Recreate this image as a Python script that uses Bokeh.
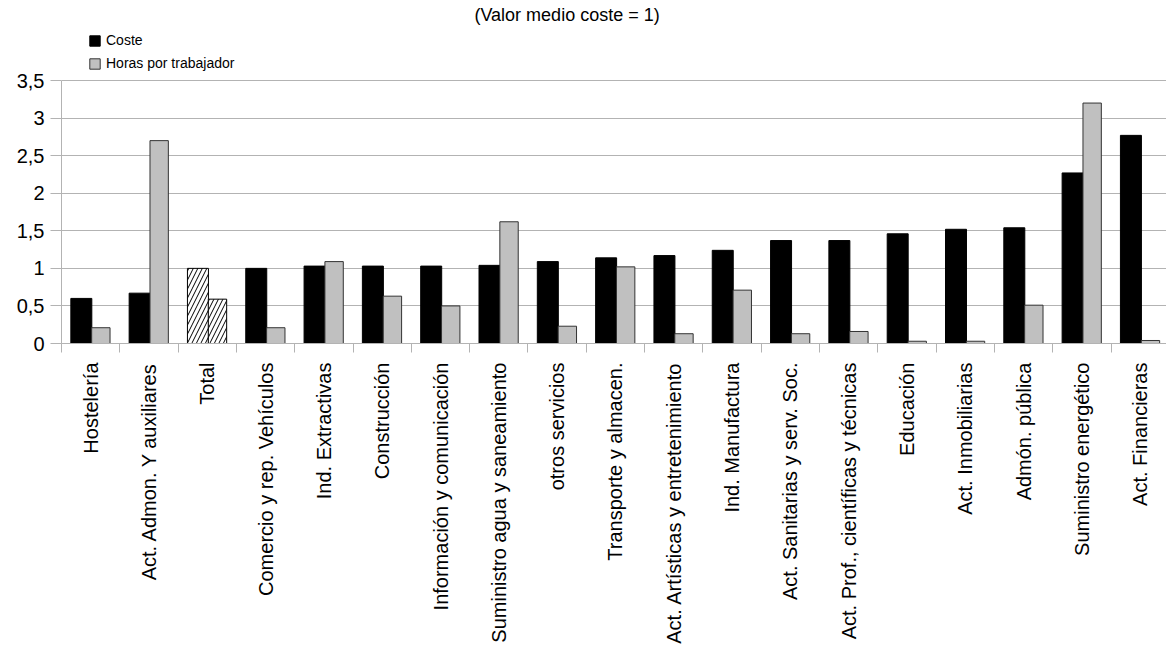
import numpy as np
from bokeh.plotting import figure
from bokeh.models import (ColumnDataSource, Range1d, FixedTicker, Legend, LegendItem, Label)
from bokeh.embed import file_html
from bokeh.resources import INLINE

categories = ["Hostelería", "Act. Admon. Y auxiliares", "Total", "Comercio y rep. Vehículos",
              "Ind. Extractivas", "Construcción", "Información y comunicación",
              "Suministro agua y saneamiento", "otros servicios", "Transporte y almacen.",
              "Act. Artísticas y entretenimiento", "Ind. Manufactura", "Act. Sanitarias y serv. Soc.",
              "Act. Prof., científicas y técnicas", "Educación", "Act. Inmobiliarias",
              "Admón. pública", "Suministro energético", "Act. Financieras"]
coste = [0.60, 0.67, 1.00, 1.00, 1.03, 1.03, 1.03, 1.04, 1.09, 1.14, 1.17, 1.24, 1.37, 1.37,
         1.46, 1.52, 1.54, 2.27, 2.77]
horas = [0.21, 2.70, 0.59, 0.21, 1.09, 0.63, 0.50, 1.62, 0.23, 1.02, 0.13, 0.71, 0.13, 0.16,
         0.03, 0.03, 0.51, 3.20, 0.04]
y_ticks = [0, 0.5, 1, 1.5, 2, 2.5, 3, 3.5]
y_tick_labels = ["0", "0,5", "1", "1,5", "2", "2,5", "3", "3,5"]
special = "Total"
title_text = "(Valor medio coste = 1)"

n = len(categories)
idx = np.arange(n)
is_total = [c == special for c in categories]

src_c = ColumnDataSource(dict(
    x=idx + 0.34, top=coste,
    fill=["white" if t else "black" for t in is_total],
    hatch=["/" if t else " " for t in is_total]))
src_h = ColumnDataSource(dict(
    x=idx + 0.675, top=horas,
    fill=["white" if t else "#c0c0c0" for t in is_total],
    line=["black" if t else "#333333" for t in is_total],
    hatch=["/" if t else " " for t in is_total]))

p = figure(width=1166, height=671, output_backend="svg", toolbar_location=None,
           x_range=Range1d(0, 18.95), y_range=Range1d(0, 4.565),
           min_border_left=61, min_border_right=0, min_border_top=0, min_border_bottom=328)
p.outline_line_color = None
p.background_fill_color = "white"

r1 = p.vbar(x="x", top="top", width=0.36, bottom=0, source=src_c,
            fill_color="fill", line_color="black", line_width=1,
            hatch_pattern="hatch", hatch_color="black", hatch_scale=9, hatch_weight=1)
r2 = p.vbar(x="x", top="top", width=0.315, bottom=0, source=src_h,
            fill_color="fill", line_color="line", line_width=1,
            hatch_pattern="hatch", hatch_color="black", hatch_scale=9, hatch_weight=1)

# x axis: labels at category centres, separators at boundaries
xa = p.xaxis[0]
xa.ticker = FixedTicker(ticks=list(idx + 0.5), minor_ticks=list(range(n + 1)))
xa.major_label_overrides = {float(i + 0.5): c for i, c in enumerate(categories)}
xa.major_label_orientation = np.pi / 2
xa.major_tick_line_color = None
xa.major_tick_out = 8
xa.major_tick_in = 0
xa.major_label_standoff = 10
xa.minor_tick_line_color = "#b3b3b3"
xa.minor_tick_out = 9
xa.minor_tick_in = 0
xa.axis_line_color = "#b3b3b3"
xa.major_label_text_font = "Liberation Sans"
xa.major_label_text_font_size = "20px"
xa.major_label_text_color = "black"

ya = p.yaxis[0]
ya.ticker = FixedTicker(ticks=y_ticks)
ya.bounds = (0, 3.5)
ya.major_label_overrides = {float(t): l for t, l in zip(y_ticks, y_tick_labels)}
ya.major_tick_line_color = "#b3b3b3"
ya.major_tick_out = 11
ya.major_tick_in = 0
ya.minor_tick_line_color = None
ya.axis_line_color = "#b3b3b3"
ya.major_label_standoff = 6
ya.major_label_text_font = "Liberation Sans"
ya.major_label_text_font_size = "20px"
ya.major_label_text_color = "black"

p.xgrid.grid_line_color = None
p.ygrid.ticker = FixedTicker(ticks=y_ticks)
p.ygrid.grid_line_color = "#b3b3b3"

p.add_layout(Label(x=8.67, y=4.37, text=title_text, text_align="center",
                   text_baseline="middle", text_font="Liberation Sans",
                   text_font_size="18px", text_color="black"))

legend = Legend(items=[LegendItem(label="Coste", renderers=[r1], index=0),
                       LegendItem(label="Horas por trabajador", renderers=[r2], index=0)],
                location=(27, 272), orientation="vertical",
                padding=0, margin=0, spacing=7,
                glyph_width=13, glyph_height=13, label_height=13,
                label_standoff=5, border_line_color=None, background_fill_alpha=0,
                label_text_font="Liberation Sans", label_text_font_size="14px",
                label_text_color="black", label_text_baseline="bottom")
p.add_layout(legend, "center")

open("out.html", "w").write(file_html(p, INLINE))
